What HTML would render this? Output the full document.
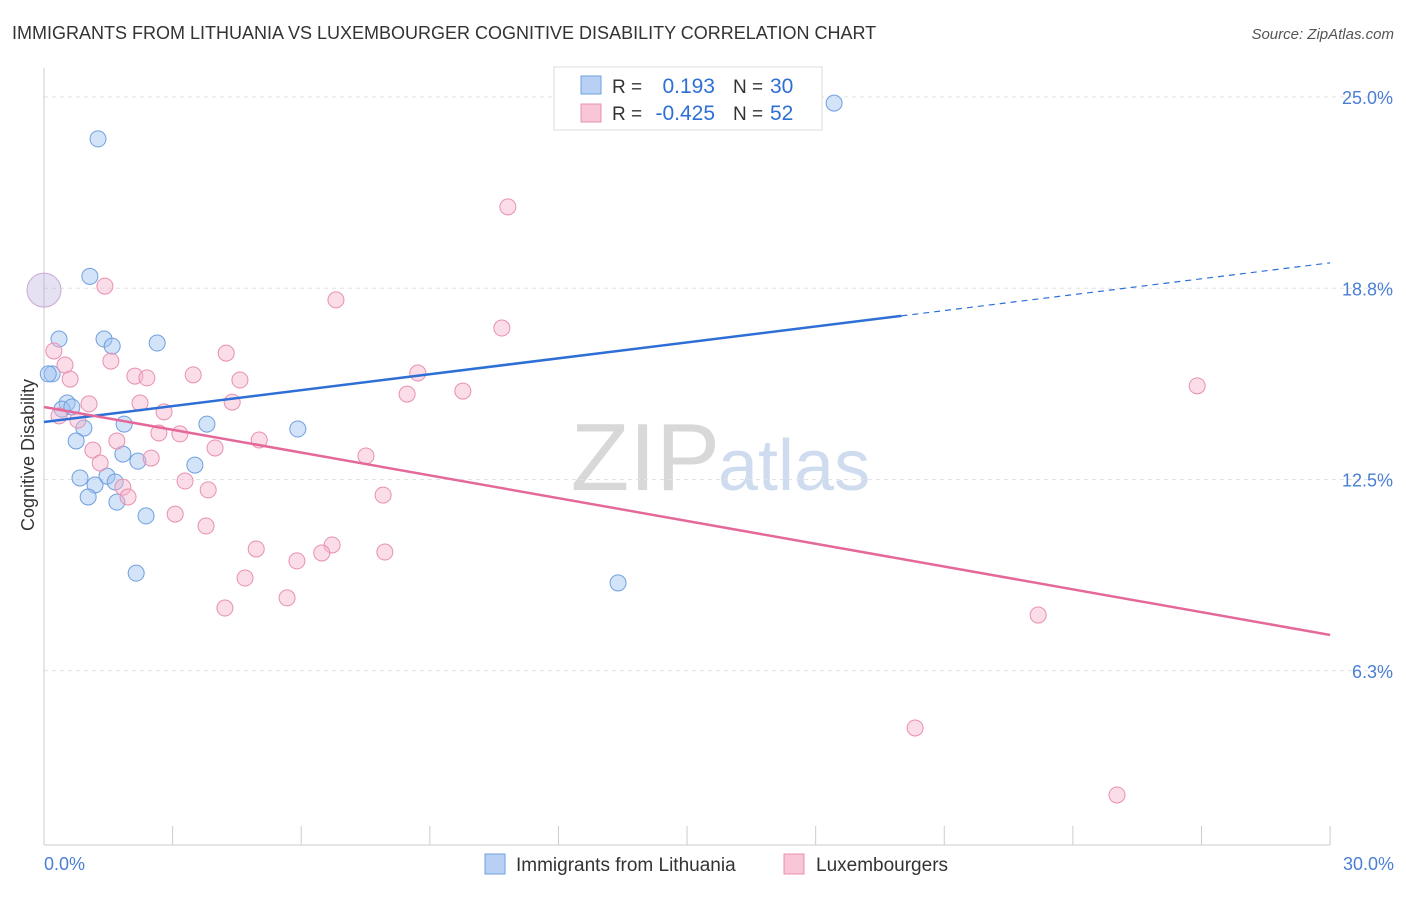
<!DOCTYPE html>
<html><head><meta charset="utf-8"><style>
body{margin:0;background:#fff;font-family:"Liberation Sans",sans-serif;}
svg text{font-family:"Liberation Sans",sans-serif;}
</style></head><body>
<svg id="c" width="1406" height="892"></svg>
<script>
const blueX=[1.26,18.43,1.07,0.35,1.40,1.59,2.64,0.19,0.54,0.42,0.65,0.93,1.87,3.80,5.92,0.75,1.84,2.19,3.52,0.84,1.47,1.19,1.66,1.03,1.70,2.38,2.15,13.39,0.10];
const blueY=[23.63,24.80,19.14,17.09,17.09,16.86,16.96,15.95,15.00,14.80,14.87,14.18,14.31,14.31,14.15,13.76,13.33,13.10,12.97,12.55,12.61,12.32,12.42,11.93,11.76,11.31,9.44,9.12,15.95];
const pinkX=[10.82,1.42,6.81,10.68,0.23,4.25,0.49,1.56,0.61,2.12,2.40,3.48,4.57,8.72,8.47,9.77,26.90,4.39,1.05,2.24,0.35,0.79,2.80,2.68,3.17,5.02,1.70,1.14,3.99,2.50,7.51,1.31,3.29,1.84,3.83,1.96,7.91,3.06,3.78,4.95,6.72,6.48,7.95,5.90,4.69,5.67,4.22,23.19,20.32,25.03];
const pinkY=[21.41,18.82,18.37,17.45,16.70,16.63,16.24,16.37,15.78,15.88,15.82,15.92,15.75,15.98,15.29,15.39,15.56,15.03,14.97,15.00,14.58,14.44,14.71,14.02,13.99,13.79,13.76,13.46,13.53,13.20,13.27,13.04,12.45,12.25,12.16,11.93,11.99,11.37,10.98,10.23,10.36,10.10,10.13,9.84,9.28,8.63,8.30,8.07,4.38,2.19];
const yTicks=[25,18.75,12.5,6.25];
const yTickLabels=["25.0%","18.8%","12.5%","6.3%"];
const blueTrend=[14.38,19.58];
const pinkTrend=[14.87,7.42];
const xs=v=>44+v*42.87, ys=v=>97+(25-v)*30.6;
const svg=document.getElementById('c');const NS='http://www.w3.org/2000/svg';
function add(tag,attrs,text){const e=document.createElementNS(NS,tag);for(const k in attrs)e.setAttribute(k,attrs[k]);if(text!==undefined)e.textContent=text;svg.appendChild(e);return e;}
let e;
e=add('text',{x:12,y:39,'font-size':18,fill:'#333'},'IMMIGRANTS FROM LITHUANIA VS LUXEMBOURGER COGNITIVE DISABILITY CORRELATION CHART');

e=add('text',{x:1394,y:39,'font-size':15,fill:'#555','font-style':'italic','text-anchor':'end'},'Source: ZipAtlas.com');

e=add('text',{x:720,y:490,'font-size':96,fill:'#d8d8d8','text-anchor':'end','font-family':'Liberation Serif'},'ZIP');

e=add('text',{x:718,y:490,'font-size':72,fill:'#cfdcef'},'atlas');

yTicks.forEach((t,i)=>{
 e=add('line',{x1:44,x2:1394,y1:ys(t),y2:ys(t),stroke:'#e2e2e2','stroke-dasharray':'4,4'});
 
 e=add('text',{x:1393,y:ys(t)+7,'font-size':18,fill:'#4a7fd4','text-anchor':'end'},yTickLabels[i]);
 
});
e=add('line',{x1:44,x2:44,y1:68,y2:845,stroke:'#ccc'});
e=add('line',{x1:44,x2:1330,y1:845,y2:845,stroke:'#ccc'});
for(let i=0;i<=10;i++){e=add('line',{x1:xs(i*3),x2:xs(i*3),y1:826,y2:845,stroke:'#ccc'});}
e=add('text',{x:44,y:870,'font-size':18,fill:'#4a7fd4'},'0.0%');
e=add('text',{x:1394,y:870,'font-size':18,fill:'#4a7fd4','text-anchor':'end'},'30.0%');
e=add('text',{x:34,y:455,'font-size':18,fill:'#333','text-anchor':'middle',transform:'rotate(-90 34 455)'},'Cognitive Disability');
e=add('circle',{cx:xs(0),cy:ys(18.69),r:17,fill:'rgba(180,170,220,0.35)',stroke:'#c9a6d6'});
blueX.forEach((x,i)=>{e=add('circle',{cx:xs(x),cy:ys(blueY[i]),r:8,fill:'rgba(160,195,240,0.45)',stroke:'#6f9fe0','stroke-width':1});
});
pinkX.forEach((x,i)=>{e=add('circle',{cx:xs(x),cy:ys(pinkY[i]),r:8,fill:'rgba(245,180,205,0.45)',stroke:'#e890b0','stroke-width':1});
});
const bAt=x=>blueTrend[0]+(blueTrend[1]-blueTrend[0])*x/30;
e=add('line',{x1:xs(0),y1:ys(bAt(0)),x2:xs(20),y2:ys(bAt(20)),stroke:'#2e6fd6','stroke-width':2.5});
e=add('line',{x1:xs(20),y1:ys(bAt(20)),x2:xs(30),y2:ys(bAt(30)),stroke:'#2e6fd6','stroke-width':1.2,'stroke-dasharray':'6,5'});
e=add('line',{x1:xs(0),y1:ys(pinkTrend[0]),x2:xs(30),y2:ys(pinkTrend[1]),stroke:'#e5689a','stroke-width':2.5});
e=add('rect',{x:554,y:67,width:268,height:63,fill:'#fff',stroke:'#ddd'});
e=add('rect',{x:581,y:76,width:20,height:18,fill:'#b7d0f4',stroke:'#6f9fe0'});
e=add('rect',{x:581,y:104,width:20,height:18,fill:'#f9c6d8',stroke:'#e890b0'});
[[93,'0.193','30'],[120,'-0.425','52']].forEach((r,i)=>{
 e=add('text',{x:612,y:r[0],'font-size':19,fill:'#333'},'R =');
 e=add('text',{x:715,y:r[0],'font-size':21,fill:'#2e6fd6','text-anchor':'end'},r[1]);
 e=add('text',{x:733,y:r[0],'font-size':19,fill:'#333'},'N =');
 e=add('text',{x:770,y:r[0],'font-size':21,fill:'#2e6fd6'},r[2]);
});
e=add('rect',{x:485,y:854,width:20,height:20,fill:'#b7d0f4',stroke:'#6f9fe0'});
e=add('text',{x:516,y:871,'font-size':19,fill:'#333'},'Immigrants from Lithuania');
e=add('rect',{x:784,y:854,width:20,height:20,fill:'#f9c6d8',stroke:'#e890b0'});
e=add('text',{x:816,y:871,'font-size':19,fill:'#333'},'Luxembourgers');
</script>
</body></html>
